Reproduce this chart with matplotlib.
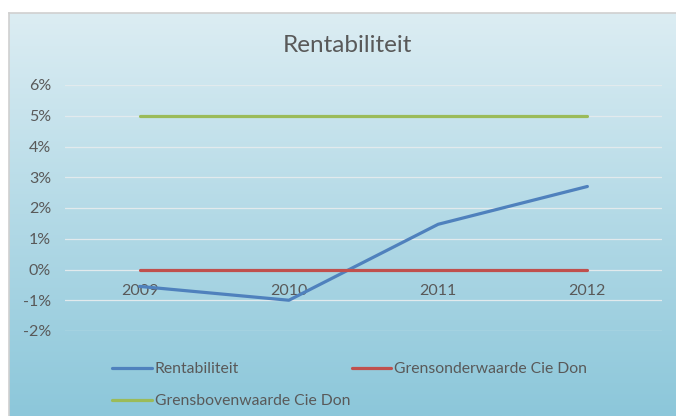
import numpy as np
import matplotlib
matplotlib.use("Agg")
import matplotlib.pyplot as plt
from matplotlib.ticker import FuncFormatter

plt.rcParams['font.family'] = ['Lato', 'DejaVu Sans']

# data
years = ["2009", "2010", "2011", "2012"]
rentabiliteit = [-0.55, -1.0, 1.47, 2.7]
grens_onder = [0, 0, 0, 0]
grens_boven = [5, 5, 5, 5]
y_ticks = [-2, -1, 0, 1, 2, 3, 4, 5, 6]

text_col = "#595959"

fig = plt.figure(figsize=(6.76, 4.16), dpi=100)
fig.patch.set_facecolor("white")

# gradient chart area background
bg = fig.add_axes([9 / 676, 0, 1, (416 - 13) / 416], zorder=0)
top = np.array([220, 237, 243]) / 255
bot = np.array([140, 199, 218]) / 255
t = np.linspace(0, 1, 256)[:, None]
grad = (top[None, :] * (1 - t) + bot[None, :] * t)[:, None, :]
bg.imshow(grad, aspect="auto", extent=[0, 1, 0, 1])
bg.set_xticks([])
bg.set_yticks([])
for name, s in bg.spines.items():
    if name in ("left", "top"):
        s.set_color("#d0d0d0")
        s.set_linewidth(1.2)
    else:
        s.set_visible(False)

ax = fig.add_axes([65 / 676, 1 - 331 / 416, (662 - 65) / 676, (331 - 85) / 416], zorder=1)
ax.patch.set_alpha(0)
x = np.arange(len(years))

ax.set_ylim(-2, 6)
ax.set_xlim(-0.5, 3.5)
ax.set_yticks(y_ticks)
ax.yaxis.set_major_formatter(FuncFormatter(lambda v, p: f"{v:.0f}%"))
ax.grid(axis="y", color="#e2eaed", linewidth=0.9)
ax.set_axisbelow(True)
for s in ["top", "right", "left"]:
    ax.spines[s].set_visible(False)
# category axis crosses at 0%
ax.spines["bottom"].set_position(("data", 0))
ax.spines["bottom"].set_visible(False)
ax.set_xticks(x)
ax.set_xticklabels(years)
ax.tick_params(axis="both", length=0, colors=text_col, labelsize=11.5)
ax.tick_params(axis="x", pad=10.5)
ax.tick_params(axis="y", pad=10)

l1, = ax.plot(x, rentabiliteit, color="#4f81bd", lw=2.3, solid_capstyle="round", label="Rentabiliteit", zorder=3)
l2, = ax.plot(x, grens_onder, color="#c0504d", lw=2.3, solid_capstyle="round", label="Grensonderwaarde Cie Don", zorder=3)
l3, = ax.plot(x, grens_boven, color="#9bbb59", lw=2.3, solid_capstyle="round", label="Grensbovenwaarde Cie Don", zorder=3)

fig.text(347 / 676, 1 - 46 / 416, "Rentabiliteit", ha="center", va="center",
         fontsize=17.5, color=text_col)

leg = fig.legend([l1, l3, l2], [l1.get_label(), l3.get_label(), l2.get_label()],
                 ncol=2, loc="upper left", bbox_to_anchor=(106 / 676, 1 - 356 / 416),
                 frameon=False, fontsize=11.3, handlelength=2.5, handletextpad=0.2,
                 columnspacing=0.1, labelspacing=1.15, borderaxespad=0)
for txt in leg.get_texts():
    txt.set_color(text_col)

fig.savefig("out.png", dpi=100)
